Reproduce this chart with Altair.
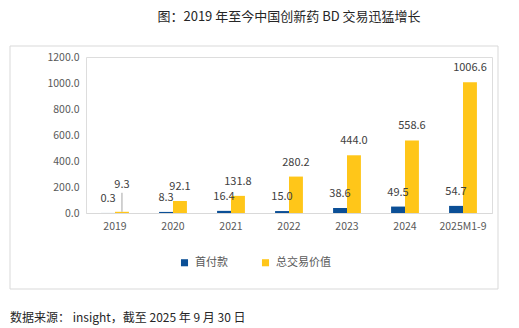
import altair as alt
import pandas as pd

years = ["2019", "2020", "2021", "2022", "2023", "2024", "2025M1-9"]
upfront = [0.3, 8.3, 16.4, 15.0, 38.6, 49.5, 54.7]
total_value = [9.3, 92.1, 131.8, 280.2, 444.0, 558.6, 1006.6]
series = ["首付款", "总交易价值"]
colors = ["#0B4F96", "#FFC619"]
y_ticks = [0, 200, 400, 600, 800, 1000, 1200]
title_text = "图：2019 年至今中国创新药 BD 交易迅猛增长"
footer_text = "数据来源： insight，截至 2025 年 9 月 30 日"

rows = []
for i, y in enumerate(years):
    rows.append({"year": y, "series": series[0], "value": upfront[i]})
    rows.append({"year": y, "series": series[1], "value": total_value[i]})
df = pd.DataFrame(rows)

FONT = "Noto Sans CJK SC"

x_enc = alt.X("year:N", sort=years,
              scale=alt.Scale(paddingInner=0.52, paddingOuter=0.26),
              axis=alt.Axis(title=None, labelAngle=0, ticks=False, labelPadding=8,
                            domainColor="#D9D9D9", labelColor="#595959",
                            labelFontSize=10.5, labelFont=FONT))
xoff = alt.XOffset("series:N", sort=series, scale=alt.Scale(paddingInner=0, paddingOuter=0))
y_enc = alt.Y("value:Q", scale=alt.Scale(domain=[0, 1200]),
              axis=alt.Axis(title=None, values=y_ticks, format=".1f", domain=False,
                            ticks=False, grid=False, labelPadding=7,
                            labelColor="#595959", labelFontSize=10.5, labelFont=FONT))

base = alt.Chart(df).encode(x=x_enc, xOffset=xoff, y=y_enc)

bars = base.mark_bar().encode(
    color=alt.Color("series:N", sort=series,
                    scale=alt.Scale(domain=series, range=colors),
                    legend=alt.Legend(title=None, orient="none", direction="horizontal",
                                      legendX=93, legendY=200, symbolType="square",
                                      symbolSize=50, labelFontSize=11, labelFont=FONT,
                                      labelColor="#595959", columnPadding=32,
                                      labelOffset=5))
)

is_2019_total = "datum.year == '2019' && datum.series == '总交易价值'"

labels = base.transform_filter("!(" + is_2019_total + ")").mark_text(
    dy=-14, baseline="middle", fontSize=11, font=FONT, color="#404040"
).encode(text=alt.Text("value:Q", format=".1f"))

labels_2019 = base.transform_filter(is_2019_total).mark_text(
    dy=-27, baseline="middle", fontSize=11, font=FONT, color="#404040"
).encode(text=alt.Text("value:Q", format=".1f"))

leader = base.transform_filter(is_2019_total).mark_rule(
    color="#A6A6A6", strokeWidth=1, y2Offset=-19
).encode(y2="value:Q")

one = pd.DataFrame({"t": [footer_text]})
border = alt.Chart(one).mark_rect(fill=None, stroke="#D9D9D9", strokeWidth=1).encode(
    x=alt.value(-76), x2=alt.value(412), y=alt.value(-11), y2=alt.value(232)
)
footer = alt.Chart(one).mark_text(align="left", baseline="middle", fontSize=12,
                                  font=FONT, color="#262626").encode(
    x=alt.value(-76), y=alt.value(261), text="t:N"
)

chart = alt.layer(border, bars, leader, labels, labels_2019, footer).properties(
    width=406, height=156,
    title=alt.TitleParams(title_text, anchor="middle", offset=22, fontSize=13,
                          font=FONT, fontWeight="normal", color="#262626"),
    autosize=alt.AutoSizeParams(type="none"),
    padding={"left": 86, "top": 57, "right": 27, "bottom": 115},
).configure_view(stroke=None).configure(background="white")

chart.save("out.html", embed_options={"renderer": "svg", "actions": False})
